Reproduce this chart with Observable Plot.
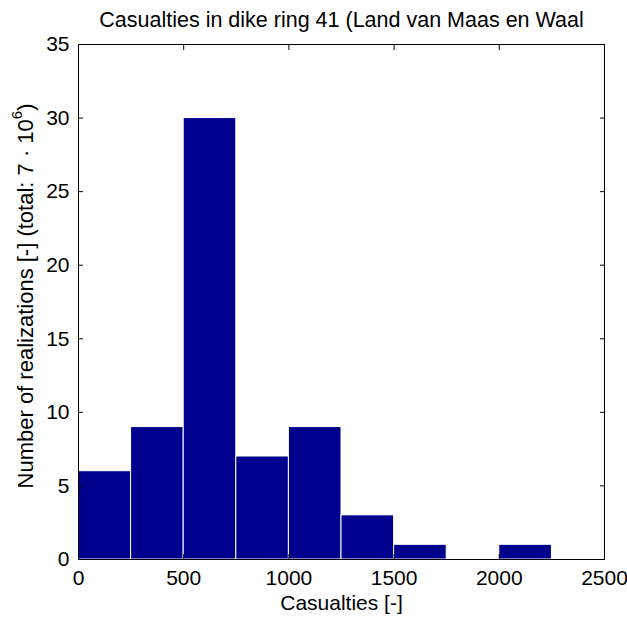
<!DOCTYPE html>
<html>
<head>
<meta charset="utf-8">
<script src="https://cdn.jsdelivr.net/npm/d3@7"></script>
<script src="https://cdn.jsdelivr.net/npm/@observablehq/plot@0.6"></script>
<style>
  html, body { margin: 0; padding: 0; background: #fff; }
  svg { font-family: "Liberation Sans", Arial, sans-serif; }
</style>
</head>
<body>
<div id="chart"></div>
<script>
const binStart = [0, 250, 500, 750, 1000, 1250, 1500, 1750, 2000];
const binEnd   = [250, 500, 750, 1000, 1250, 1500, 1750, 2000, 2250];
const counts   = [6, 9, 30, 7, 9, 3, 1, 0, 1];
const xTicks = [0, 500, 1000, 1500, 2000, 2500];
const yTicks = [0, 5, 10, 15, 20, 25, 30, 35];
const title = "Casualties in dike ring 41 (Land van Maas en Waal";
const xLabel = "Casualties [-]";
const yLabelMain = "Number of realizations [-] (total: 7 · 10";
const yLabelSup = "6";
const yLabelEnd = ")";

const bins = binStart.map((s, i) => ({x1: s, x2: binEnd[i], y: counts[i]})).filter(d => d.y > 0);

const navy = "#00008F";
const mT = 44, mB = 60, mL = 78, mR = 23;
const plot = Plot.plot({
  width: 627,
  height: 619,
  marginLeft: mL,
  marginRight: mR,
  marginTop: mT,
  marginBottom: mB,
  style: {fontFamily: "'Liberation Sans', Arial, sans-serif", fontSize: "21px", background: "#fff", color: "#000"},
  x: {domain: [0, 2500]},
  y: {domain: [0, 35]},
  marks: [
    Plot.rectY(bins, {x1: "x1", x2: "x2", y: "y", fill: navy, stroke: "#fff", strokeWidth: 1}),
    Plot.frame({stroke: "#000", strokeWidth: 1}),
    Plot.axisX(xTicks, {anchor: "bottom", tickSize: 0, tickPadding: 11, fontSize: 21, tickFormat: d3.format("d"), label: null}),
    Plot.axisX(xTicks, {anchor: "bottom", tickSize: -5, tickFormat: () => "", label: null, stroke: "#000"}),
    Plot.axisX(xTicks, {anchor: "top", tickSize: -5, tickFormat: () => "", label: null, stroke: "#000"}),
    Plot.axisY(yTicks, {anchor: "left", tickSize: 0, tickPadding: 9, fontSize: 21, label: null}),
    Plot.axisY(yTicks, {anchor: "left", tickSize: -5, tickFormat: () => "", label: null, stroke: "#000"}),
    Plot.axisY(yTicks, {anchor: "right", tickSize: -5, tickFormat: () => "", label: null, stroke: "#000"}),
    Plot.text([title], {frameAnchor: "top", dy: -24, fontSize: 21.5, textAnchor: "middle", lineAnchor: "middle", fill: "#000"}),
    Plot.text([xLabel], {frameAnchor: "bottom", dy: 44, fontSize: 21, textAnchor: "middle", lineAnchor: "middle", fill: "#000"})
  ]
});
document.getElementById("chart").appendChild(plot);

// rotated y label with superscript
const svg = d3.select(plot);
const cy = 296;
const t = svg.append("text")
  .attr("transform", `translate(27,${cy}) rotate(-90)`)
  .attr("text-anchor", "middle")
  .attr("dominant-baseline", "middle")
  .attr("font-size", 22)
  .attr("fill", "#000");
t.append("tspan").text(yLabelMain);
t.append("tspan").attr("font-size", 15).attr("dy", -9).text(yLabelSup);
t.append("tspan").attr("dy", 9).text(yLabelEnd);
</script>
</body>
</html>
